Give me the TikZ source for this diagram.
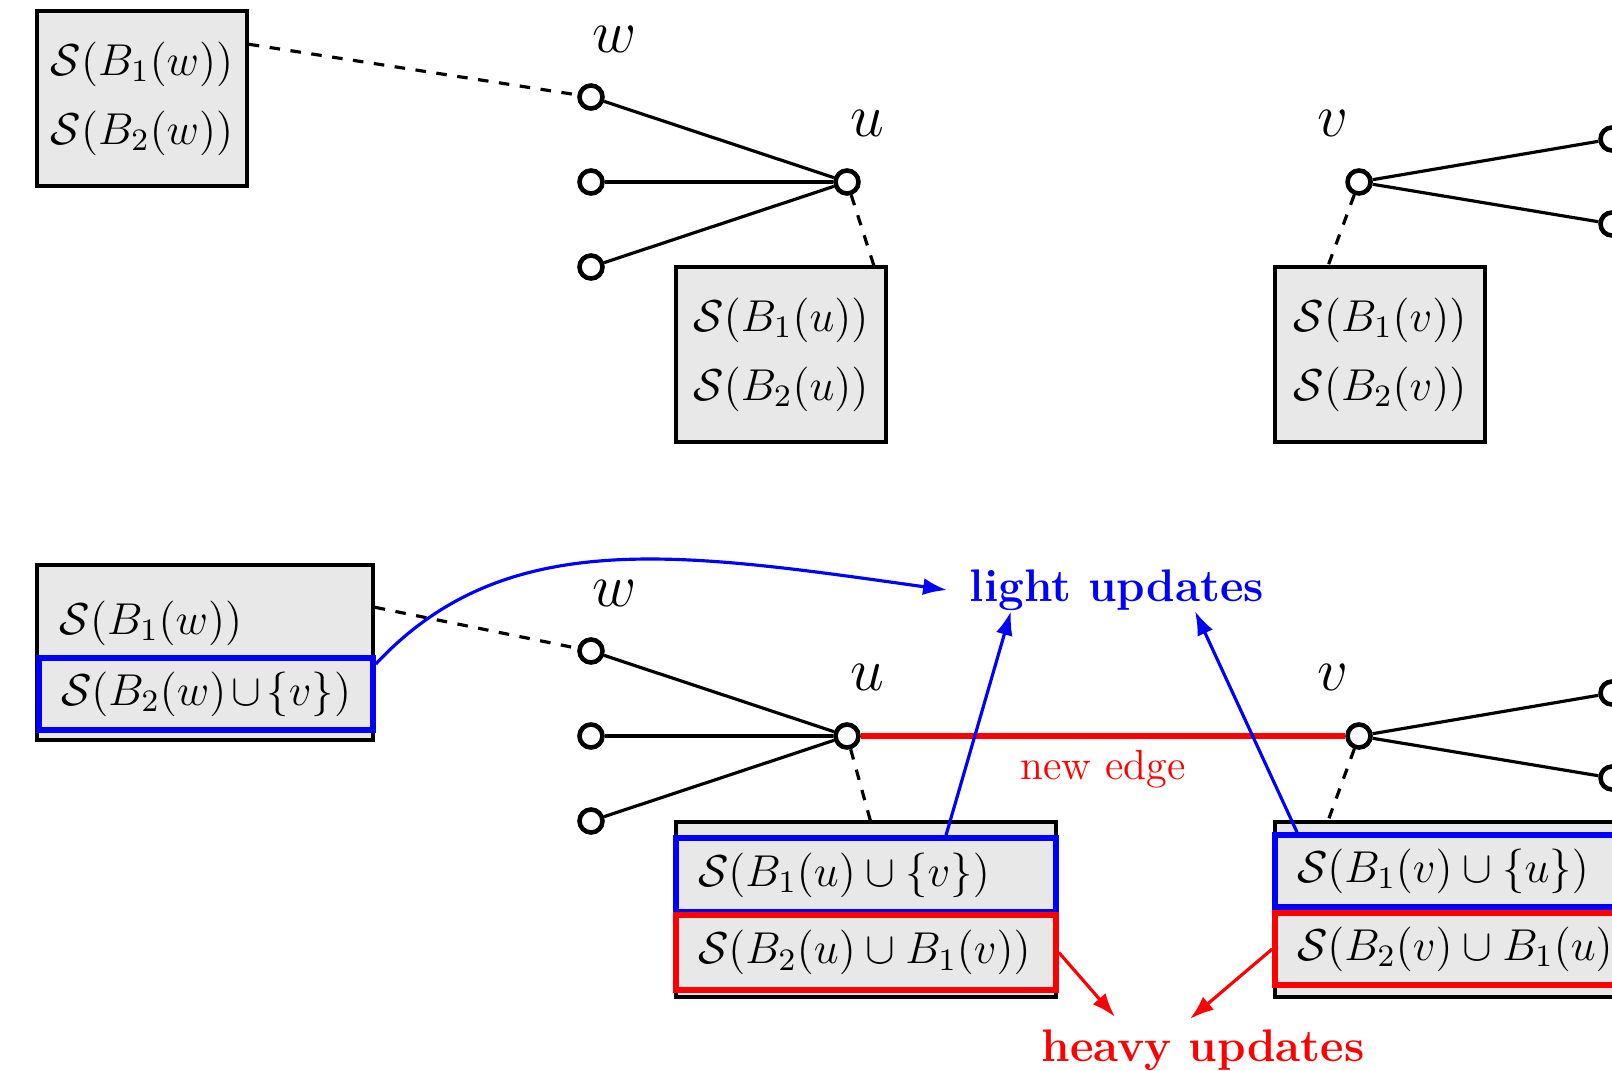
\RequirePackage{fix-cm}
\documentclass[tikz,border=0pt]{standalone}
\usetikzlibrary{positioning,arrows.meta}

\newcommand{\boxfont}{\fontsize{12.7}{15.2}\selectfont}
\newcommand{\updfont}{\fontsize{13}{16}\selectfont\bfseries}

\tikzset{
  vtx/.style={circle,draw,fill=white,line width=1.3pt,minimum size=0.23cm,inner sep=0pt},
  store/.style={draw,fill=black!9,line width=1pt,minimum height=1.75cm,inner sep=0pt,font=\boxfont},
  entry/.style={font=\boxfont,inner sep=0pt,anchor=west},
  lightrow/.style={draw=blue,line width=1.6pt,minimum height=0.72cm,inner xsep=0.22cm,inner ysep=0pt,align=left,font=\boxfont},
  heavyrow/.style={lightrow,draw=red},
  tie/.style={line width=0.9pt},
  link/.style={line width=0.9pt,dashed},
  lbl/.style={font=\LARGE,inner sep=0pt},
  upd/.style={-{Latex[length=2.4mm,width=1.7mm]},line width=0.9pt}
}

\begin{document}
\begin{tikzpicture}
  \useasboundingbox (0,0) rectangle (16.12,10.70);

  % before the insertion
  \node[store,minimum width=2.1cm,align=left] (sw) at (1.42,9.715) {$\mathcal{S}(B_1(w))$\\[4.5pt]$\mathcal{S}(B_2(w))$};
  \node[store,minimum width=2.1cm,align=left] (su) at (7.81,7.155) {$\mathcal{S}(B_1(u))$\\[4.5pt]$\mathcal{S}(B_2(u))$};
  \node[store,minimum width=2.1cm,align=left] (sv) at (13.80,7.155) {$\mathcal{S}(B_1(v))$\\[4.5pt]$\mathcal{S}(B_2(v))$};

  \node[vtx] (w) at (5.91,9.73) {};
  \node[vtx] (x1) at (5.91,8.88) {};
  \node[vtx] (x2) at (5.91,8.03) {};
  \node[vtx] (u) at (8.47,8.88) {};
  \node[vtx] (v) at (13.59,8.88) {};
  \node[vtx] (y1) at (16.12,9.31) {};
  \node[vtx] (y2) at (16.12,8.46) {};
  \node[lbl] (lw) at (6.15,10.31) {$w$};
  \node[lbl] (lu) at (8.67,9.47) {$u$};
  \node[lbl] (lv) at (13.33,9.47) {$v$};

  \draw[tie] (w) -- (u);
  \draw[tie] (x1) -- (u);
  \draw[tie] (x2) -- (u);
  \draw[tie] (v) -- (y1);
  \draw[tie] (v) -- (y2);
  \draw[link] ([yshift=-0.35cm]sw.north east) -- (w);
  \draw[link] (u) -- ([xshift=-0.14cm]su.north east);
  \draw[link] (v) -- ([xshift=0.55cm]sv.north west);

  % after the insertion
  \node[store,minimum width=3.36cm] (swb) at (2.05,4.175) {};
  \node[entry] (rw1) at (0.59,4.47) {$\mathcal{S}(B_1(w))$};
  \node[lightrow,text width=2.90cm] (rw2) at (2.06,3.76) {$\mathcal{S}(B_2(w)\cup\{v\})$};

  \node[store,minimum width=3.8cm] (sub) at (8.66,1.605) {};
  \node[lightrow,text width=3.36cm,minimum height=0.74cm] (ru1) at (8.66,1.95) {$\mathcal{S}(B_1(u)\cup\{v\})$};
  \node[heavyrow,text width=3.36cm,minimum height=0.75cm] (ru2) at (8.66,1.175) {$\mathcal{S}(B_2(u)\cup B_1(v))$};

  \node[store,minimum width=3.8cm] (svb) at (14.65,1.605) {};
  \node[lightrow,text width=3.36cm] (rv1) at (14.65,1.99) {$\mathcal{S}(B_1(v)\cup\{u\})$};
  \node[heavyrow,text width=3.36cm] (rv2) at (14.65,1.21) {$\mathcal{S}(B_2(v)\cup B_1(u))$};

  \node[vtx] (wb) at (5.91,4.19) {};
  \node[vtx] (x1b) at (5.91,3.34) {};
  \node[vtx] (x2b) at (5.91,2.49) {};
  \node[vtx] (ub) at (8.47,3.34) {};
  \node[vtx] (vb) at (13.59,3.34) {};
  \node[vtx] (y1b) at (16.12,3.77) {};
  \node[vtx] (y2b) at (16.12,2.92) {};
  \node[lbl] (lwb) at (6.15,4.77) {$w$};
  \node[lbl] (lub) at (8.67,3.93) {$u$};
  \node[lbl] (lvb) at (13.33,3.93) {$v$};

  \draw[tie] (wb) -- (ub);
  \draw[tie] (x1b) -- (ub);
  \draw[tie] (x2b) -- (ub);
  \draw[tie] (vb) -- (y1b);
  \draw[tie] (vb) -- (y2b);
  \draw[red,line width=1.5pt] (ub) -- node[below=0pt,font=\large,text=red] (ne) {new edge} (vb);
  \draw[link] ([yshift=-0.44cm]swb.north east) -- (wb);
  \draw[link] (ub) -- ([xshift=1.96cm]sub.north west);
  \draw[link] (vb) -- ([xshift=0.55cm]svb.north west);

  \node[font=\updfont,text=blue,inner sep=0pt] (light) at (11.17,4.80) {light updates};
  \node[font=\updfont,text=red,inner sep=0pt] (heavy) at (12.03,0.20) {heavy updates};

  \draw[upd,blue] ([yshift=0.3cm]rw2.east) .. controls +(47:1.9) and +(172:2.7) .. ([xshift=-0.22cm]light.west);
  \draw[upd,blue] ([xshift=0.8cm]ru1.north) -- ([xshift=-1.06cm]light.south);
  \draw[upd,blue] ([xshift=-1.68cm]rv1.north) -- ([xshift=0.78cm]light.south);
  \draw[upd,red] (ru2.east) -- ([xshift=-0.88cm,yshift=0.12cm]heavy.north);
  \draw[upd,red] (rv2.west) -- ([xshift=-0.13cm,yshift=0.1cm]heavy.north);
\end{tikzpicture}
\end{document}
